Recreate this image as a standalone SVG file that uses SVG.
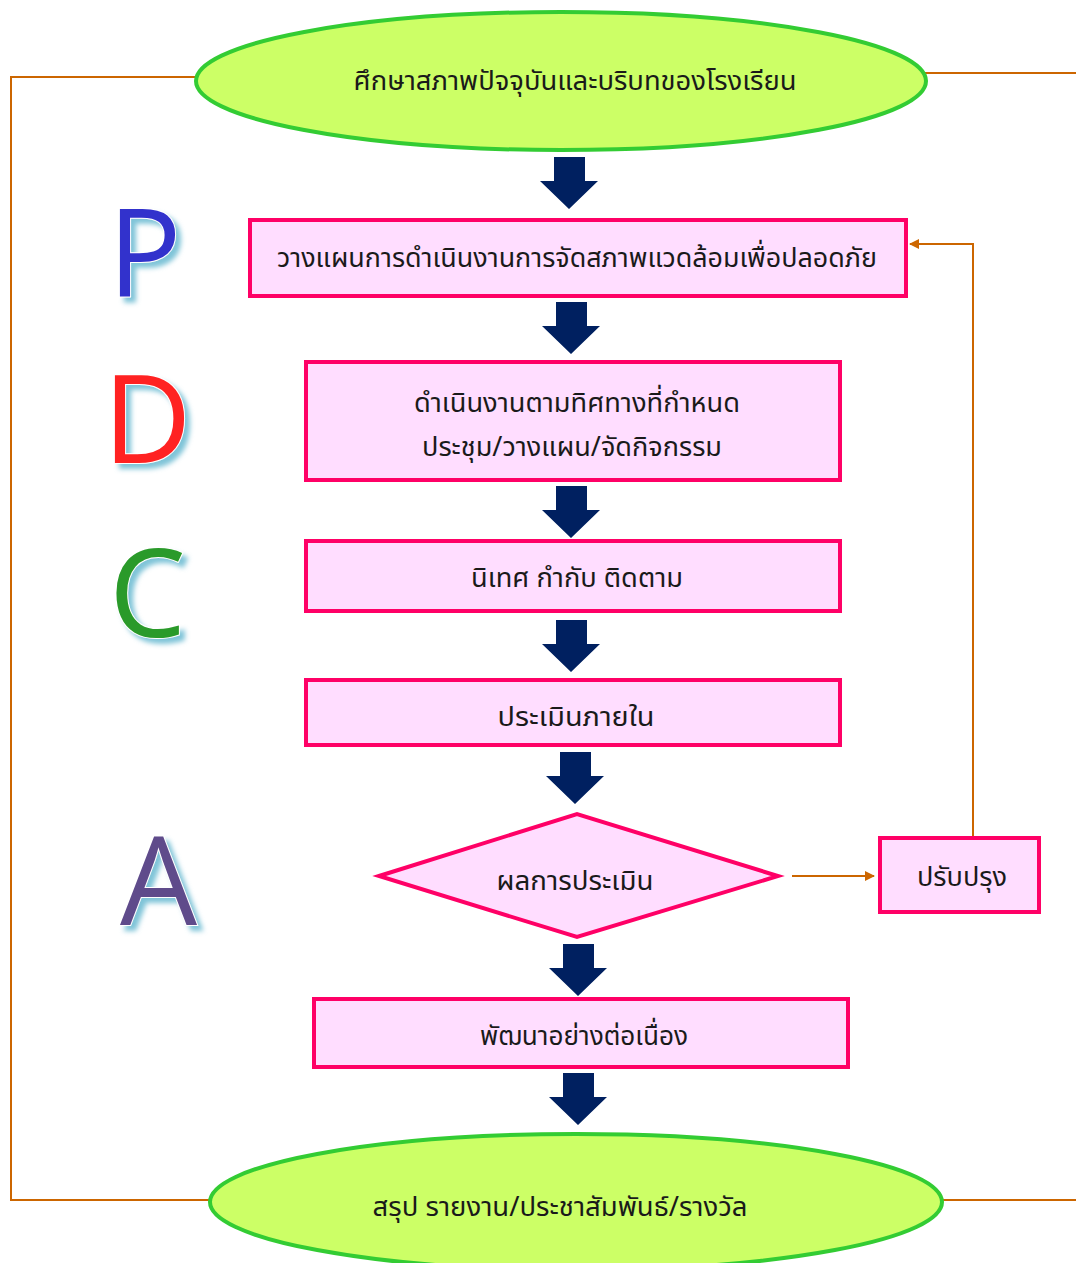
<svg xmlns="http://www.w3.org/2000/svg" width="1076" height="1263" viewBox="0 0 1076 1263">
<defs>
<style>
.ell{fill:#ccff66;stroke:#33cc33;stroke-width:4}
.box{fill:#ffddff;stroke:#ff0066;stroke-width:4}
.t{font-family:"Noto Sans","Noto Sans Thai","Tahoma","DejaVu Sans",sans-serif;font-size:27px;fill:#1a1a1a;text-anchor:middle;dominant-baseline:central}
.big{font-family:"Open Sans","Noto Sans",sans-serif;font-size:122px;stroke:#fff;stroke-width:2;paint-order:stroke;filter:url(#glow)}
.blk{fill:#002060}
.con{fill:none;stroke:#cc6600;stroke-width:2}
</style>
<filter id="glow" x="-20%" y="-20%" width="150%" height="150%">
<feGaussianBlur in="SourceAlpha" stdDeviation="2.5" result="b"/>
<feOffset in="b" dx="5" dy="5" result="o"/>
<feFlood flood-color="#7fc4d8"/>
<feComposite in2="o" operator="in" result="s"/>
<feMerge><feMergeNode in="s"/><feMergeNode in="SourceGraphic"/></feMerge>
</filter>
<marker id="ah" markerWidth="10" markerHeight="10" refX="9" refY="5" orient="auto" markerUnits="userSpaceOnUse" viewBox="0 0 10 10">
<path d="M0,0 L10,5 L0,10 Z" fill="#cc6600"/>
</marker>
<path id="down" d="M-15,0 H16 V24 H29 L0,52 L-29,24 H-15 Z"/>
</defs>

<g id="connectors">
<polyline class="con" points="198,77 11,77 11,1200 212,1200"/>
<line class="con" x1="924" y1="73" x2="1076" y2="73"/>
<line class="con" x1="940" y1="1200" x2="1076" y2="1200"/>
<line class="con" x1="792" y1="876" x2="874" y2="876" marker-end="url(#ah)"/>
<polyline class="con" points="973,838 973,244 910,244" marker-end="url(#ah)"/>
<use href="#down" class="blk" x="569" y="157"/>
<use href="#down" class="blk" x="571" y="302"/>
<use href="#down" class="blk" x="571" y="486"/>
<use href="#down" class="blk" x="571" y="620"/>
<use href="#down" class="blk" x="575" y="752"/>
<use href="#down" class="blk" x="578" y="944"/>
<use href="#down" class="blk" x="578" y="1073"/>
</g>

<g id="letters">
<text class="big" x="108" y="297" fill="#3333cc">P</text>
<text class="big" x="103" y="463" fill="#ff2222">D</text>
<text class="big" x="109" y="637" fill="#2a9a2a">C</text>
<text class="big" x="120" y="925" fill="#5f4b8b">A</text>
</g>

<g id="n-start">
<ellipse class="ell" cx="561" cy="81" rx="365" ry="69"/>
<text class="t" x="575" y="79" textLength="443" lengthAdjust="spacingAndGlyphs">ศึกษาสภาพปัจจุบันและบริบทของโรงเรียน</text>
</g>
<g id="n-plan">
<rect class="box" x="250" y="220" width="656" height="76"/>
<text class="t" x="577" y="256" textLength="600" lengthAdjust="spacingAndGlyphs">วางแผนการดำเนินงานการจัดสภาพแวดล้อมเพื่อปลอดภัย</text>
</g>
<g id="n-do">
<rect class="box" x="306" y="362" width="534" height="118"/>
<text class="t" x="577" y="401" textLength="326" lengthAdjust="spacingAndGlyphs">ดำเนินงานตามทิศทางที่กำหนด</text>
<text class="t" x="572" y="445" textLength="300" lengthAdjust="spacingAndGlyphs">ประชุม/วางแผน/จัดกิจกรรม</text>
</g>
<g id="n-check">
<rect class="box" x="306" y="541" width="534" height="70"/>
<text class="t" x="577" y="576" textLength="212" lengthAdjust="spacingAndGlyphs">นิเทศ กำกับ ติดตาม</text>
</g>
<g id="n-eval">
<rect class="box" x="306" y="680" width="534" height="65"/>
<text class="t" x="576" y="715" textLength="157" lengthAdjust="spacingAndGlyphs">ประเมินภายใน</text>
</g>
<g id="n-result">
<polygon class="box" points="379,876 577,814 778,876 577,937"/>
<text class="t" x="575" y="879" textLength="157" lengthAdjust="spacingAndGlyphs">ผลการประเมิน</text>
</g>
<g id="n-improve">
<rect class="box" x="880" y="838" width="159" height="74"/>
<text class="t" x="962" y="875" textLength="90" lengthAdjust="spacingAndGlyphs">ปรับปรุง</text>
</g>
<g id="n-develop">
<rect class="box" x="314" y="999" width="534" height="68"/>
<text class="t" x="584" y="1034" textLength="208" lengthAdjust="spacingAndGlyphs">พัฒนาอย่างต่อเนื่อง</text>
</g>
<g id="n-end">
<ellipse class="ell" cx="576" cy="1202" rx="366" ry="68"/>
<text class="t" x="560" y="1205" textLength="375" lengthAdjust="spacingAndGlyphs">สรุป รายงาน/ประชาสัมพันธ์/รางวัล</text>
</g>
</svg>
